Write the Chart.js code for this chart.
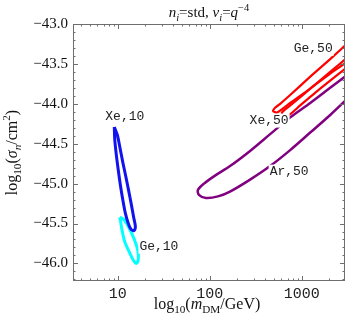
<!DOCTYPE html>
<html>
<head>
<meta charset="utf-8">
<script src="https://cdn.jsdelivr.net/npm/chart.js@4.4.1/dist/chart.umd.min.js"></script>
<style>
  html, body { margin: 0; padding: 0; background: #fff; }
  #wrap { width: 346px; height: 318px; }
</style>
</head>
<body>
<div id="wrap"><canvas id="chart"></canvas></div>
<script>
// x = log10(m_DM / GeV), y = log10(sigma_n / cm^2)
const xe10X = [0.962, 0.967, 0.984, 1.005, 1.027, 1.054, 1.082, 1.114, 1.142, 1.174, 1.191, 1.174, 1.147, 1.120, 1.087, 1.054, 1.022, 0.995, 0.962]
const xe10Y = [-44.29, -44.45, -44.64, -44.83, -45.01, -45.20, -45.37, -45.50, -45.57, -45.59, -45.54, -45.43, -45.26, -45.10, -44.91, -44.73, -44.54, -44.39, -44.29]

const ge10X = [1.022, 1.033, 1.044, 1.076, 1.131, 1.174, 1.202, 1.223, 1.218, 1.180, 1.120, 1.065, 1.022]
const ge10Y = [-45.42, -45.49, -45.57, -45.73, -45.87, -45.97, -46.00, -45.95, -45.84, -45.70, -45.55, -45.45, -45.42]

const ar50X = [3.527, 3.309, 3.092, 2.874, 2.656, 2.438, 2.220, 2.057, 1.937, 1.871, 1.882, 1.959, 2.089, 2.220, 2.438, 2.656, 2.874, 3.092, 3.309, 3.527]
const ar50Y = [-43.61, -43.80, -43.99, -44.17, -44.38, -44.59, -44.78, -44.90, -45.00, -45.08, -45.14, -45.18, -45.16, -45.10, -44.95, -44.78, -44.58, -44.36, -44.14, -43.90]

const ge50X = [3.527, 3.309, 3.092, 2.874, 2.765, 2.710, 2.688, 2.732, 2.874, 3.092, 3.309, 3.527]
const ge50Y = [-43.21, -43.44, -43.66, -43.89, -44.00, -44.05, -44.09, -44.11, -43.99, -43.81, -43.62, -43.45]

const xe50X = [3.527, 3.309, 3.092, 2.928, 2.819, 2.786, 2.786, 2.841, 2.983, 3.200, 3.527]
const xe50Y = [-43.39, -43.60, -43.81, -43.97, -44.07, -44.11, -44.15, -44.16, -44.02, -43.81, -43.51]

const contourNames = ['Xe,10', 'Ge,10', 'Ar,50', 'Ge,50', 'Xe,50']
const contourColors = ['#1212ee', '#00ffff', '#800080', '#ff0000', '#ff0000']

// contour labels and where they sit (data coords)
const labelText = ['Xe,10', 'Ge,10', 'Xe,50', 'Ar,50', 'Ge,50']
const labelX = [1.076, 1.447, 2.645, 2.863, 3.124]
const labelY = [-44.16, -45.79, -44.21, -44.85, -43.31]

const xMajor = [1, 2, 3]
const xMajorLabels = ['10', '100', '1000']
const yMajor = [-46.0, -45.5, -45.0, -44.5, -44.0, -43.5, -43.0]

const xMin = 0.513, xMax = 3.47
const yMin = -46.22, yMax = -43.0

const SERIF = '"Liberation Serif", "Times New Roman", serif'
const MONO = '"Liberation Mono", "Courier New", monospace'
const frameColor = '#6e6e6e'

function xTickValues() {
  const out = []
  for (let n = 0; n <= 3; n++) {
    for (let k = 1; k <= 9; k++) {
      const v = n + Math.log10(k)
      if (v >= xMin && v <= xMax) out.push(v)
    }
  }
  return out
}

function yTickValues() {
  const out = []
  for (let i = Math.ceil(yMin * 10); i <= Math.floor(yMax * 10); i++) out.push(i / 10)
  return out
}

const isMajor = (v, list) => list.some(m => Math.abs(m - v) < 1e-6)

function toPoints(xs, ys) {
  return xs.map((x, i) => ({ x: x, y: ys[i] }))
}

const series = [[xe10X, xe10Y], [ge10X, ge10Y], [ar50X, ar50Y], [ge50X, ge50Y], [xe50X, xe50Y]]

// draws text with italic / sub / superscript pieces, centred at x
function drawRich(ctx, parts, x, y, size) {
  const fontFor = p => {
    const s = p.sh ? size * 0.7 : size
    return (p.it ? 'italic ' : '') + s + 'px ' + SERIF
  }
  let w = 0
  parts.forEach(p => { ctx.font = fontFor(p); w += ctx.measureText(p.t).width })
  let cx = x - w / 2
  ctx.textAlign = 'left'
  ctx.textBaseline = 'alphabetic'
  parts.forEach(p => {
    ctx.font = fontFor(p)
    const dy = p.sh === -1 ? size * 0.25 : p.sh === 1 ? -size * 0.42 : 0
    ctx.fillText(p.t, cx, y + dy)
    cx += ctx.measureText(p.t).width
  })
}

const framePlugin = {
  id: 'frame',
  afterDatasetsDraw(chart) {
    const { ctx, chartArea: a, scales: { x, y } } = chart
    ctx.save()
    ctx.strokeStyle = frameColor
    ctx.lineWidth = 1
    ctx.strokeRect(Math.round(a.left) + 0.5, Math.round(a.top) + 0.5,
      Math.round(a.right - a.left) - 1, Math.round(a.bottom - a.top) - 1)
    ctx.beginPath()
    xTickValues().forEach(v => {
      const px = Math.round(x.getPixelForValue(v)) + 0.5
      const len = isMajor(v, xMajor) ? 5 : 2.5
      ctx.moveTo(px, a.bottom); ctx.lineTo(px, a.bottom - len)
      ctx.moveTo(px, a.top); ctx.lineTo(px, a.top + len)
    })
    yTickValues().forEach(v => {
      const py = Math.round(y.getPixelForValue(v)) + 0.5
      const len = isMajor(v, yMajor) ? 5 : 2.5
      ctx.moveTo(a.left, py); ctx.lineTo(a.left + len, py)
      ctx.moveTo(a.right, py); ctx.lineTo(a.right - len, py)
    })
    ctx.stroke()

    // contour labels
    ctx.font = '13px ' + MONO
    ctx.textAlign = 'center'
    ctx.textBaseline = 'middle'
    labelText.forEach((t, i) => {
      const px = x.getPixelForValue(labelX[i])
      const py = y.getPixelForValue(labelY[i])
      const w = ctx.measureText(t).width
      ctx.fillStyle = '#fff'
      ctx.fillRect(px - w / 2 - 1, py - 7, w + 2, 14)
      ctx.fillStyle = '#222'
      ctx.fillText(t, px, py)
    })

    // titles
    ctx.fillStyle = '#111'
    drawRich(ctx, [
      { t: 'n', it: true }, { t: 'i', it: true, sh: -1 }, { t: '=std, ' },
      { t: 'ν', it: true }, { t: 'i', it: true, sh: -1 }, { t: '=' },
      { t: 'q', it: true }, { t: '−4', sh: 1 }
    ], (a.left + a.right) / 2, 17, 15)

    drawRich(ctx, [
      { t: 'log' }, { t: '10', sh: -1 }, { t: '(' }, { t: 'm', it: true },
      { t: 'DM', sh: -1 }, { t: '/GeV)' }
    ], (a.left + a.right) / 2 - 2, 309, 16)

    ctx.save()
    ctx.translate(17, (a.top + a.bottom) / 2)
    ctx.rotate(-Math.PI / 2)
    drawRich(ctx, [
      { t: 'log' }, { t: '10', sh: -1 }, { t: '(' }, { t: 'σ', it: true },
      { t: 'n', it: true, sh: -1 }, { t: '/cm' }, { t: '2', sh: 1 }, { t: ')' }
    ], 0, 0, 16)
    ctx.restore()
    ctx.restore()
  }
}

new Chart(document.getElementById('chart'), {
  type: 'scatter',
  data: {
    datasets: series.map((s, i) => ({
      label: contourNames[i],
      data: toPoints(s[0], s[1]),
      showLine: true,
      borderColor: contourColors[i],
      borderWidth: i === 2 ? 2.5 : (i >= 3 ? 2.2 : 3),
      pointRadius: 0,
      tension: i >= 3 ? 0.2 : 0.3,
      fill: false,
      clip: 0
    }))
  },
  options: {
    responsive: true,
    maintainAspectRatio: false,
    animation: false,
    devicePixelRatio: 1,
    layout: { padding: { top: 24, right: 1, left: 0, bottom: 0 } },
    plugins: {
      legend: { display: false },
      tooltip: { enabled: false }
    },
    scales: {
      x: {
        type: 'linear',
        min: xMin,
        max: xMax,
        grid: { display: false, drawTicks: false },
        border: { display: false },
        afterBuildTicks: scale => { scale.ticks = xTickValues().map(v => ({ value: v })) },
        afterFit: scale => { scale.height = 37 },
        ticks: {
          autoSkip: false,
          maxRotation: 0,
          padding: 4,
          color: '#222',
          font: { family: MONO, size: 15 },
          callback: value => {
            const k = xMajor.findIndex(m => Math.abs(m - value) < 1e-6)
            return k >= 0 ? xMajorLabels[k] : ''
          }
        }
      },
      y: {
        type: 'linear',
        min: yMin,
        max: yMax,
        grid: { display: false, drawTicks: false },
        border: { display: false },
        afterBuildTicks: scale => { scale.ticks = yTickValues().map(v => ({ value: v })) },
        afterFit: scale => { scale.width = 73 },
        ticks: {
          autoSkip: false,
          padding: 5,
          color: '#111',
          font: { family: SERIF, size: 15 },
          callback: value => isMajor(value, yMajor) ? value.toFixed(1).replace('-', '\u2212') : ''
        }
      }
    }
  },
  plugins: [framePlugin]
})
</script>
</body>
</html>
